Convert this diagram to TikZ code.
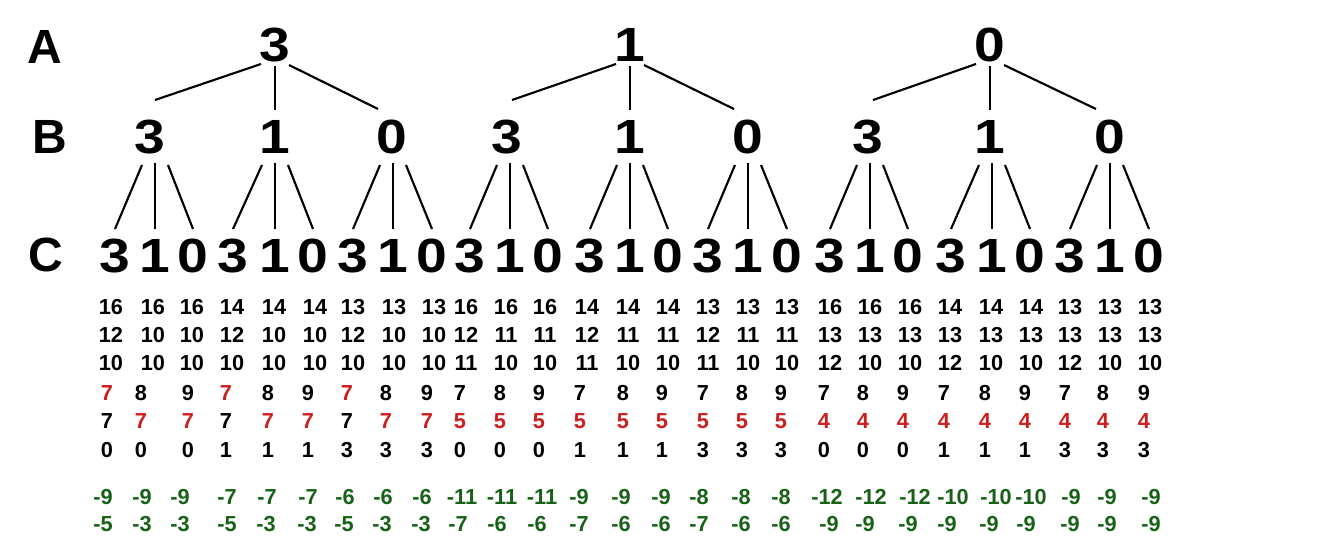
\documentclass[tikz,border=0pt]{standalone}
\usepackage{fontspec}
\usepackage{graphicx}
\setmainfont{Liberation Sans}
\usetikzlibrary{calc}
\definecolor{redn}{RGB}{204,32,32}
\definecolor{greenn}{RGB}{24,98,24}
\newcommand{\wdig}[1]{\scalebox{1.15}[1]{#1}}
\begin{document}
\begin{tikzpicture}[x=0.75pt,y=-0.75pt,
  big/.style={font=\fontsize{36}{36}\selectfont\bfseries, inner sep=0pt},
  num/.style={font=\fontsize{16.3}{16.3}\selectfont\bfseries, inner sep=0pt},
  grn/.style={num, text=greenn},
  edge/.style={line width=1.6pt}]
\useasboundingbox[fill=white] (0,0) rectangle (1327,546);
% level labels
\node[big] (lA) at (45,47) {A};
\node[big] (lB) at (50,137) {B};
\node[big] (lC) at (46,255) {C};
% level A
\foreach \i/\x/\t in {1/275/3,2/630/1,3/990/0}
  \node[big] (a\i) at (\x,45) {\wdig{\t}};
% level B
\foreach \i/\x/\t in {1/150/3,2/275/1,3/392/0,4/507/3,5/630/1,6/748/0,7/868/3,8/990/1,9/1110/0}
  \node[big] (b\i) at (\x,137) {\wdig{\t}};
% level C
\foreach \i/\x/\t in {1/115/3,2/155/1,3/193/0,4/233/3,5/275/1,6/313/0,7/353/3,8/393/1,9/432/0,
  10/470/3,11/510/1,12/548/0,13/590/3,14/630/1,15/668/0,16/708/3,17/748/1,18/787/0,
  19/830/3,20/870/1,21/908/0,22/951/3,23/992/1,24/1030/0,25/1070/3,26/1110/1,27/1149/0}
  \node[big] (c\i) at (\x,256) {\wdig{\t}};
% edges A -> B
\foreach \g/\l/\m/\r in {1/1/2/3,2/4/5/6,3/7/8/9}{
  \draw[edge] ($(a\g)+(-14,19)$) -- ($(b\l)+(5,-37)$);
  \draw[edge] ($(a\g)+(0,21)$) -- ($(b\m)+(0,-27)$);
  \draw[edge] ($(a\g)+(14,20)$) -- ($(b\r)+(-14,-28)$);
}
% edges B -> C
\foreach \j/\l/\m/\r in {1/1/2/3,2/4/5/6,3/7/8/9,4/10/11/12,5/13/14/15,6/16/17/18,7/19/20/21,8/22/23/24,9/25/26/27}{
  \draw[edge] ($(c\m)+(-13,-91)$) -- ($(c\l)+(0,-27)$);
  \draw[edge] ($(c\m)+(0,-93)$) -- ($(c\m)+(0,-27)$);
  \draw[edge] ($(c\m)+(13,-91)$) -- ($(c\r)+(0,-27)$);
}
% rows 1-3
\foreach \i/\x/\p/\q/\r in {1/111/16/12/10,2/153/16/10/10,3/192/16/10/10,4/232/14/12/10,5/274/14/10/10,6/315/14/10/10,7/353/13/12/10,8/394/13/10/10,9/434/13/10/10,
  10/466/16/12/11,11/506/16/11/10,12/545/16/11/10,13/587/14/12/11,14/628/14/11/10,15/668/14/11/10,16/708/13/12/11,17/748/13/11/10,18/787/13/11/10,
  19/830/16/13/12,20/870/16/13/10,21/910/16/13/10,22/950/14/13/12,23/991/14/13/10,24/1031/14/13/10,25/1070/13/13/12,26/1110/13/13/10,27/1150/13/13/10}{
  \node[num] (ta\i) at (\x,307) {\p};
  \node[num] (tb\i) at (\x,335) {\q};
  \node[num] (tc\i) at (\x,363) {\r};
}
% rows 4-6
\foreach \i/\x/\p/\cp/\q/\cq/\r in {1/107/7/redn/7/black/0,2/141/8/black/7/redn/0,3/188/9/black/7/redn/0,
  4/226/7/redn/7/black/1,5/268/8/black/7/redn/1,6/308/9/black/7/redn/1,
  7/347/7/redn/7/black/3,8/386/8/black/7/redn/3,9/427/9/black/7/redn/3,
  10/460/7/black/5/redn/0,11/500/8/black/5/redn/0,12/539/9/black/5/redn/0,
  13/580/7/black/5/redn/1,14/623/8/black/5/redn/1,15/662/9/black/5/redn/1,
  16/703/7/black/5/redn/3,17/742/8/black/5/redn/3,18/781/9/black/5/redn/3,
  19/824/7/black/4/redn/0,20/863/8/black/4/redn/0,21/903/9/black/4/redn/0,
  22/944/7/black/4/redn/1,23/985/8/black/4/redn/1,24/1025/9/black/4/redn/1,
  25/1065/7/black/4/redn/3,26/1103/8/black/4/redn/3,27/1144/9/black/4/redn/3}{
  \node[num, text=\cp] (td\i) at (\x,393) {\p};
  \node[num, text=\cq] (te\i) at (\x,421) {\q};
  \node[num] (tf\i) at (\x,450) {\r};
}
% green rows
\foreach \i/\x/\p/\y/\q in {1/103/-9/103/-5,2/142/-9/142/-3,3/180/-9/180/-3,
  4/227/-7/227/-5,5/267/-7/266/-3,6/308/-7/307/-3,
  7/345/-6/344/-5,8/383/-6/382/-3,9/422/-6/421/-3,
  10/462/-11/458/-7,11/502/-11/497/-6,12/542/-11/537/-6,
  13/579/-9/579/-7,14/621/-9/621/-6,15/661/-9/661/-6,
  16/699/-8/699/-7,17/741/-8/741/-6,18/781/-8/781/-6,
  19/827/-12/829/-9,20/871/-12/865/-9,21/915/-12/908/-9,
  22/953/-10/947/-9,23/996/-10/989/-9,24/1031/-10/1026/-9,
  25/1071/-9/1070/-9,26/1107/-9/1107/-9,27/1151/-9/1151/-9}{
  \node[grn] (tg\i) at (\x,497) {\p};
  \node[grn] (th\i) at (\y,524) {\q};
}
\end{tikzpicture}
\end{document}
